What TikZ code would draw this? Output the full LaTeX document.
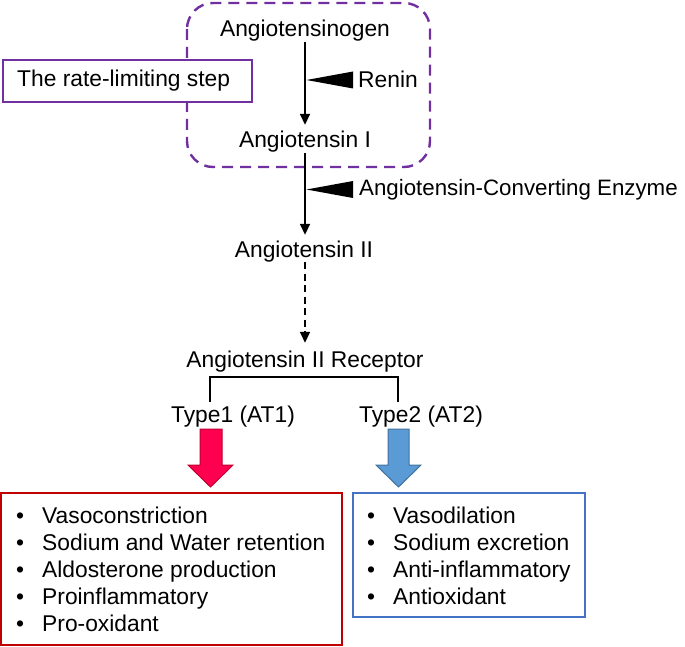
\documentclass[tikz,border=0pt]{standalone}
\usepackage{fontspec}
\setmainfont{Liberation Sans}
\usetikzlibrary{arrows.meta}
\definecolor{purp}{HTML}{7030A0}
\definecolor{redfill}{HTML}{FF0050}
\definecolor{redline}{HTML}{C00030}
\definecolor{boxred}{HTML}{C00000}
\definecolor{bluefill}{HTML}{5B9BD5}
\definecolor{blueline}{HTML}{41719C}
\definecolor{boxblue}{HTML}{4472C4}
\newcommand\dfont{\fontsize{22.8}{27.2}\selectfont}
\newcommand\efont{\fontsize{22.3}{26.8}\selectfont}
\tikzset{
  lbl/.style={font=\dfont, inner sep=0pt, text height=16pt, text depth=5pt, anchor=base},
  lblw/.style={lbl, anchor=base west},
  flow/.style={line width=1.6pt, -{Triangle[length=11pt,width=10pt]}},
  inhib/.style={fill=black},
  blockred/.style={fill=redfill, draw=redline, line width=1pt, line join=miter},
  blockblue/.style={fill=bluefill, draw=blueline, line width=1pt, line join=miter},
}
\begin{document}
\begin{tikzpicture}[x=1pt,y=-1pt]
\useasboundingbox (0,0) rectangle (685,647);
% dashed region
\draw[purp, line width=2.4pt, dash pattern=on 11pt off 7pt, rounded corners=26pt] (187,3) rectangle (430,167);
% rate-limiting box
\node[draw=purp, fill=white, line width=2.4pt, minimum width=249pt, minimum height=42pt, inner sep=0pt, anchor=north west] (rate) at (2,59) {};
\node[lblw] (ratetxt) at (17,87) {The rate-limiting step};
% main chain
\node[lbl] (ag) at (305,37) {Angiotensinogen};
\node[lbl] (a1) at (305,148) {Angiotensin I};
\node[lbl] (a2) at (304,257) {Angiotensin II};
\node[lbl] (rec) at (305,367) {Angiotensin II Receptor};
\draw[flow] (ag.south -| 305,0) -- ([yshift=7pt]a1.north -| 305,0);
\draw[flow] (a1.south -| 305,0) -- ([yshift=6pt]a2.north -| 305,0);
\draw[flow, dash pattern=on 7pt off 4.5pt] (a2.south -| 305,0) -- ([yshift=8pt]rec.north -| 305,0);
% enzymes
\node[lblw] (renin) at (358,88) {Renin};
\node[lblw, font=\efont] (ace) at (359,196) {Angiotensin-Converting Enzyme};
\coordinate (rtip) at (306.5,80);
\coordinate (atip) at (306.5,189.5);
\fill[inhib] (rtip) -- (353,71.5) -- (353,88.5) -- cycle;
\fill[inhib] (atip) -- (353,181) -- (353,198) -- cycle;
% receptor types
\node[lbl] (t1) at (233,422) {Type1 (AT1)};
\node[lbl] (t2) at (421,422) {Type2 (AT2)};
\coordinate (bl) at (210,402);
\coordinate (br) at (398,402);
\draw[line width=1.6pt] (bl) -- (210,377) -- (398,377) -- (br);
% block arrows
\draw[blockred] (200,429) -- (222,429) -- (222,465) -- (233,465) -- (210.5,487) -- (188,465) -- (200,465) -- cycle;
\draw[blockblue] (388,429) -- (409,429) -- (409,465) -- (421,465) -- (398.5,487) -- (376,465) -- (388,465) -- cycle;
% effect boxes
\draw[boxred, line width=1.8pt] (1,493) rectangle (342,645);
\draw[boxblue, line width=1.8pt] (353,493) rectangle (585,617);
\foreach \t [count=\i] in {Vasoconstriction,Sodium and Water retention,Aldosterone production,Proinflammatory,Pro-oxidant}{
  \node[lbl] (rb\i) at (20,{523+27.2*(\i-1)}) {•};
  \node[lblw] (rt\i) at (42,{523+27.2*(\i-1)}) {\t};
}
\foreach \t [count=\i] in {Vasodilation,Sodium excretion,Anti-inflammatory,Antioxidant}{
  \node[lbl] (bb\i) at (371,{523+27.2*(\i-1)}) {•};
  \node[lblw] (bt\i) at (393,{523+27.2*(\i-1)}) {\t};
}
\end{tikzpicture}
\end{document}
